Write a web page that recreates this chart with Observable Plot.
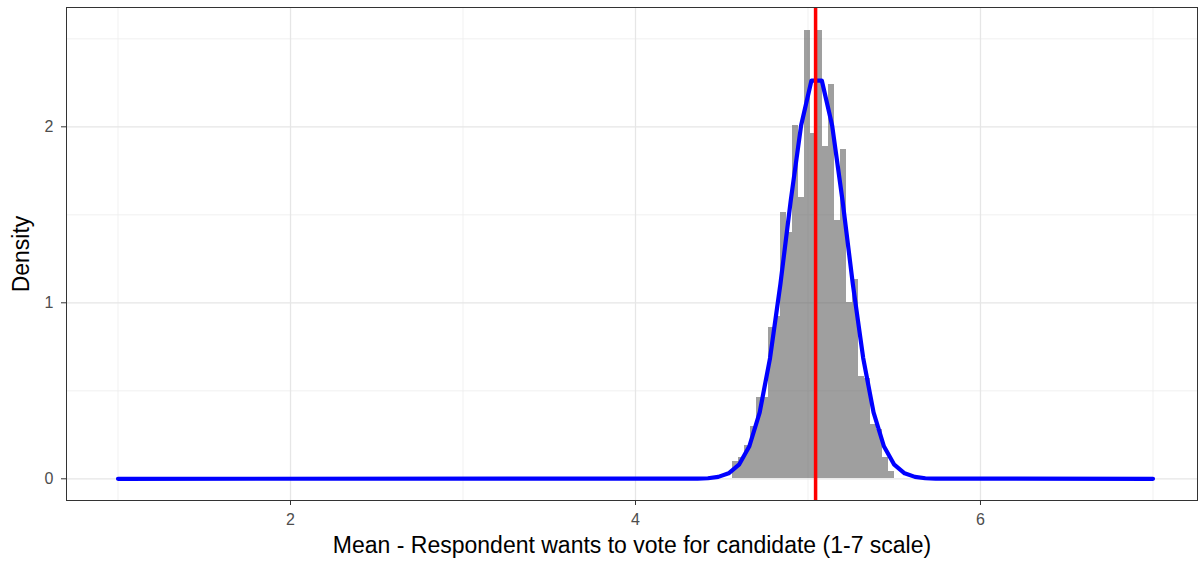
<!DOCTYPE html>
<html>
<head>
<meta charset="utf-8">
<script src="https://cdn.jsdelivr.net/npm/d3@7"></script>
<script src="https://cdn.jsdelivr.net/npm/@observablehq/plot@0.6"></script>
<style>
  html, body { margin: 0; padding: 0; background: #fff; }
  #chart { width: 1198px; height: 563px; }
</style>
</head>
<body>
<div id="chart"></div>
<script>
// Histogram bins (left edges, right edges) and densities
const binLeft = [4.561, 4.595, 4.630, 4.665, 4.700, 4.735, 4.769, 4.804, 4.839, 4.874,
                 4.909, 4.943, 4.978, 5.013, 5.048, 5.083, 5.117, 5.152, 5.187, 5.222,
                 5.257, 5.291, 5.326, 5.361, 5.396, 5.431, 5.465];
const binRight = [4.595, 4.630, 4.665, 4.700, 4.735, 4.769, 4.804, 4.839, 4.874, 4.909,
                  4.943, 4.978, 5.013, 5.048, 5.083, 5.117, 5.152, 5.187, 5.222, 5.257,
                  5.291, 5.326, 5.361, 5.396, 5.431, 5.465, 5.500];
const binDensity = [0.10, 0.12, 0.19, 0.30, 0.46, 0.46, 0.86, 0.92, 1.515, 1.40,
                    2.01, 1.60, 2.55, 1.96, 2.55, 1.89, 2.24, 1.47, 1.87, 1.00,
                    1.13, 0.58, 0.57, 0.31, 0.28, 0.12, 0.04];

// Density curve (blue), read at its vertices
const curveX = [1.00, 4.36, 4.42, 4.48, 4.54, 4.60, 4.66, 4.72, 4.78, 4.84, 4.90, 4.96,
                5.02, 5.08, 5.14, 5.20, 5.26, 5.32, 5.38, 5.44, 5.50, 5.56, 5.62, 5.68, 5.74, 7.00];
const curveY = [0, 0.001, 0.003, 0.011, 0.031, 0.080, 0.185, 0.378, 0.686, 1.106, 1.582, 2.008,
                2.263, 2.263, 2.008, 1.582, 1.106, 0.686, 0.378, 0.185, 0.080, 0.031, 0.011, 0.003, 0.001, 0];

// Mean (red line)
const meanValue = [5.044];

// Ticks / grid
const xMajor = [2, 4, 6];
const xMinor = [1, 3, 5, 7];
const yMajor = [0, 1, 2];
const yMinor = [0.5, 1.5, 2.5];

const xTitle = "Mean - Respondent wants to vote for candidate (1-7 scale)";
const yTitle = "Density";

const bins = binLeft.map((l, i) => ({x1: l, x2: binRight[i], y: binDensity[i]}));
const curve = curveX.map((x, i) => ({x, y: curveY[i]}));

const chart = Plot.plot({
  width: 1198,
  height: 563,
  marginLeft: 66,
  marginRight: 1,
  marginTop: 7,
  marginBottom: 63,
  style: {fontFamily: "'Liberation Sans', Arial, sans-serif", fontSize: "16px", background: "#fff", overflow: "visible"},
  x: {domain: [0.7014, 7.258]},
  y: {domain: [-0.1233, 2.678]},
  marks: [
    Plot.gridX(xMinor, {stroke: "#ededed", strokeOpacity: 1, strokeWidth: 0.8}),
    Plot.gridY(yMinor, {stroke: "#ededed", strokeOpacity: 1, strokeWidth: 0.8}),
    Plot.gridX(xMajor, {stroke: "#e6e6e6", strokeOpacity: 1, strokeWidth: 1.3}),
    Plot.gridY(yMajor, {stroke: "#e6e6e6", strokeOpacity: 1, strokeWidth: 1.3}),
    Plot.rectY(bins, {x1: "x1", x2: "x2", y1: 0, y2: "y", fill: "#595959", fillOpacity: 0.58, inset: 0, shapeRendering: "crispEdges"}),
    Plot.line(curve, {x: "x", y: "y", stroke: "#0000ff", strokeWidth: 4.2, strokeLinejoin: "round"}),
    Plot.ruleX(meanValue, {stroke: "#ff0000", strokeWidth: 3.5}),
    Plot.frame({stroke: "#333333", strokeWidth: 1}),
    Plot.axisX(xMajor, {tickSize: 5, tickPadding: 8, tickFormat: d3.format("d"), stroke: "#333333", fill: "#4d4d4d", fontSize: 16, label: null}),
    Plot.axisY(yMajor, {tickSize: 5, tickPadding: 8, tickFormat: d3.format("d"), stroke: "#333333", fill: "#4d4d4d", fontSize: 16, label: null}),
    Plot.text([xTitle], {frameAnchor: "bottom", textAnchor: "middle", dy: 52, fontSize: 23, fill: "#000"}),
    Plot.text([yTitle], {frameAnchor: "left", textAnchor: "middle", dx: -45, rotate: -90, fontSize: 23, fill: "#000"})
  ]
});
document.getElementById("chart").appendChild(chart);
</script>
</body>
</html>
